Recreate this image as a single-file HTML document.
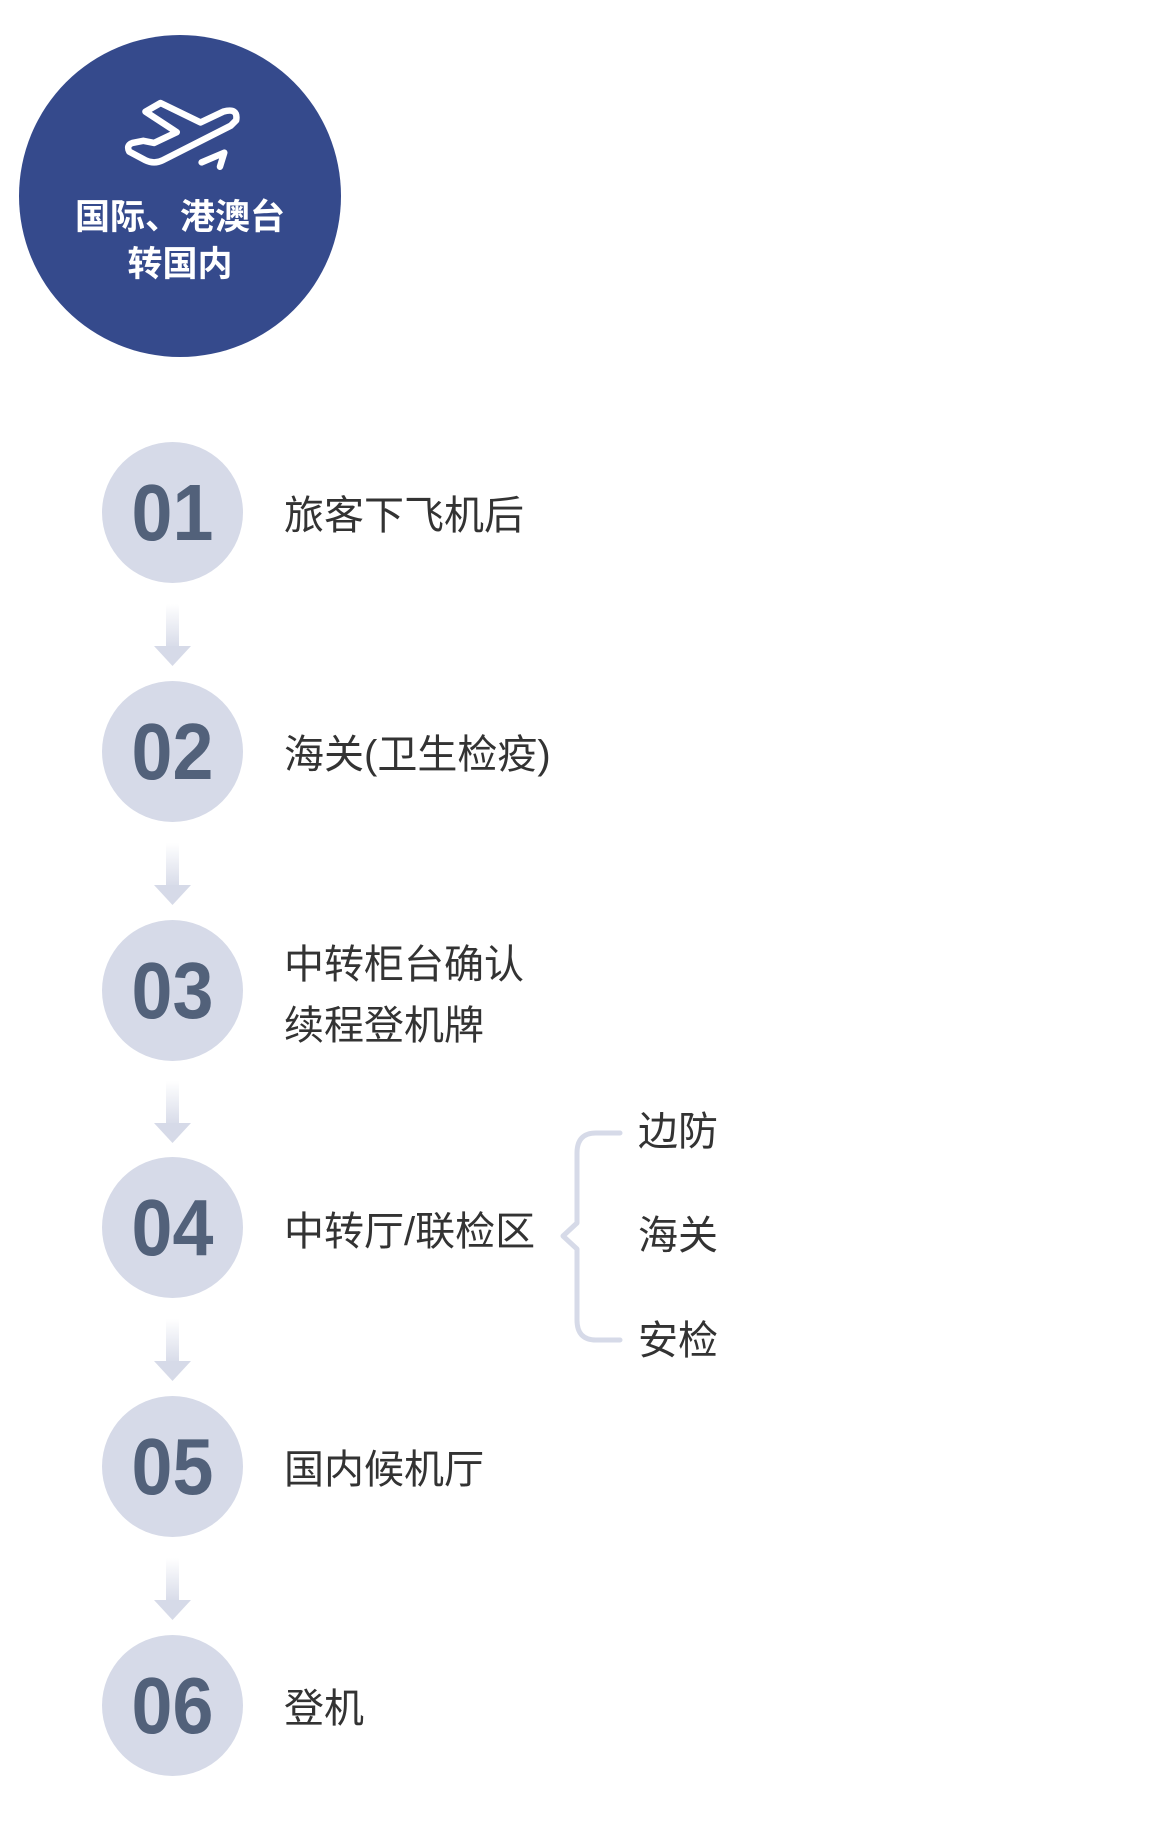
<!DOCTYPE html>
<html><head><meta charset="utf-8"><style>
body{margin:0;width:1160px;height:1840px;background:#fff;position:relative;font-family:"Liberation Sans","Noto Sans CJK SC",sans-serif;overflow:hidden}
.big{position:absolute;left:19px;top:35px;width:322px;height:322px;border-radius:50%;background:#354a8c}
.bt{position:absolute;left:19px;width:322px;text-align:center;color:#fff;font-weight:bold;font-size:35px;line-height:46px;font-family:"Noto Sans CJK SC",sans-serif}
.c{position:absolute;left:102px;width:141px;height:141px;border-radius:50%;background:#d6dae8;color:#52617a;font-weight:bold;font-size:80px;text-align:center;line-height:141px;font-family:"Liberation Sans",sans-serif}
.c span{display:inline-block;transform:scaleX(0.92)}
.t{position:absolute;left:284px;font-size:40px;color:#333;line-height:56px;font-family:"Liberation Sans","Noto Sans CJK SC",sans-serif}
.s{position:absolute;left:638px;font-size:40px;color:#333;line-height:56px}
</style></head><body>
<div class="big"></div>
<svg style="position:absolute;left:0;top:0" width="1160" height="1840">
<defs><linearGradient id="g" x1="0" y1="0" x2="0" y2="1"><stop offset="0" stop-color="#fff"/><stop offset="1" stop-color="#d6dae8"/></linearGradient></defs>
<g fill="none" stroke="#fff" stroke-width="6" stroke-linejoin="round" stroke-linecap="round" transform="translate(126 103) scale(1.08) translate(-111 -92)">
<path d="M129 100 L143 92 L180 110 L201 100 Q215 96 213 108 L208 113 L145 145 Q137 149 129 145 L114 137 Q111 131 117 129 L127 127 L137 129 L158 119 Z"/>
<path d="M181 147 L202 138 L198 151"/>
</g>
<g>
<rect x="166" y="604" width="13" height="45" fill="url(#g)"/><path d="M154 646 L191 646 L172.5 666 Z" fill="#d6dae8"/>
<rect x="166" y="843" width="13" height="45" fill="url(#g)"/><path d="M154 885 L191 885 L172.5 905 Z" fill="#d6dae8"/>
<rect x="166" y="1081" width="13" height="45" fill="url(#g)"/><path d="M154 1123 L191 1123 L172.5 1143 Z" fill="#d6dae8"/>
<rect x="166" y="1319" width="13" height="45" fill="url(#g)"/><path d="M154 1361 L191 1361 L172.5 1381 Z" fill="#d6dae8"/>
<rect x="166" y="1558" width="13" height="45" fill="url(#g)"/><path d="M154 1600 L191 1600 L172.5 1620 Z" fill="#d6dae8"/>
</g>
<path d="M620 1133 L596 1133 Q577 1133 577 1153 L577 1223 L563 1236 L577 1249 L577 1320 Q577 1340 596 1340 L620 1340" fill="none" stroke="#d6dae8" stroke-width="5" stroke-linecap="round" stroke-linejoin="round"/>
</svg>
<div class="bt" style="top:192px">国际、港澳台</div>
<div class="bt" style="top:239px">转国内</div>
<div class="c" style="top:442px"><span>01</span></div>
<div class="c" style="top:681px"><span>02</span></div>
<div class="c" style="top:920px"><span>03</span></div>
<div class="c" style="top:1157px"><span>04</span></div>
<div class="c" style="top:1396px"><span>05</span></div>
<div class="c" style="top:1635px"><span>06</span></div>
<div class="t" style="top:488px">旅客下飞机后</div>
<div class="t" style="top:727px">海关(卫生检疫)</div>
<div class="t" style="top:937px">中转柜台确认</div>
<div class="t" style="top:998px">续程登机牌</div>
<div class="t" style="top:1204px">中转厅/联检区</div>
<div class="t" style="top:1442px">国内候机厅</div>
<div class="t" style="top:1681px">登机</div>
<div class="s" style="top:1104px">边防</div>
<div class="s" style="top:1208px">海关</div>
<div class="s" style="top:1313px">安检</div>
</body></html>
